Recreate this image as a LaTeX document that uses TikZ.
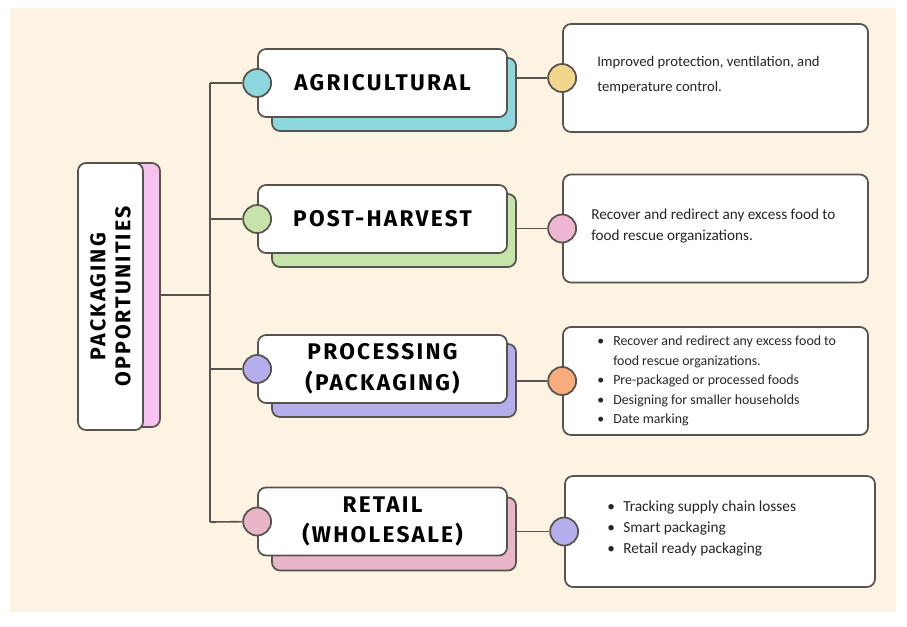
\documentclass[tikz,border=0pt]{standalone}
\usepackage{fontspec}
\setmainfont{Carlito}
\newfontfamily\headfont[LetterSpace=10]{Fira Sans}
\usetikzlibrary{positioning}

\definecolor{cream}{HTML}{FCF3E3}
\definecolor{edge}{HTML}{57534E}
\definecolor{agrcyan}{HTML}{8DD8DE}
\definecolor{harvgreen}{HTML}{C6E3A9}
\definecolor{proclilac}{HTML}{B4AEEC}
\definecolor{retpink}{HTML}{E9B5C9}
\definecolor{mainpink}{HTML}{F7C2F0}
\definecolor{dotyellow}{HTML}{F2D68C}
\definecolor{dotpink}{HTML}{EDB6D2}
\definecolor{dotorange}{HTML}{F6AC7C}

\newcommand{\bul}{\makebox[12pt][l]{\textbullet}}

\tikzset{
	card/.style={draw=edge,line width=1.3pt,rounded corners=6pt,fill=white,minimum width=186.75pt,minimum height=51pt,inner sep=0pt},
	cardback/.style={card,minimum width=183pt,minimum height=54.75pt},
	dot/.style={draw=edge,line width=1.3pt,circle,minimum size=21pt,inner sep=0pt},
	infobox/.style={card,minimum width=228.75pt,minimum height=81pt},
	infotext/.style={anchor=west,align=left,inner sep=0pt,text=black!85},
	headtext/.style={font=\headfont\bfseries\fontsize{17}{23}\selectfont,align=center},
	maintext/.style={font=\headfont\bfseries\fontsize{16}{18.75}\selectfont,align=center,rotate=90},
	wire/.style={draw=edge,line width=1.2pt},
}

\begin{document}
\begin{tikzpicture}[x=0.75pt,y=-0.75pt]
	\fill[white] (0,0) rectangle (907,626);
	\fill[cream] (10,8) rectangle (896,612);
	\useasboundingbox (0,0) rectangle (907,626);
	% main box
	\node[card,fill=mainpink,minimum width=48.75pt,minimum height=198pt] (main-back) at (127.5,295) {};
	\node[card,minimum width=48.75pt,minimum height=200.25pt] (main) at (110.5,296.5) {};
	\node[maintext] (main-label) at (main) {PACKAGING\\OPPORTUNITIES};
	% trunk
	\coordinate (trunk-top) at (210,83);
	\coordinate (trunk-bot) at (210,522);
	\draw[wire] (trunk-top) -- (trunk-bot);
	\draw[wire] (main-back.east) -- (main-back.east -| trunk-top);
	% agricultural
	\node[cardback,fill=agrcyan] (agri-back) at (394,94.5) {};
	\node[card,headtext] (agri) at (382.5,83) {AGRICULTURAL};
	\node[dot,fill=agrcyan] (agri-in) at (agri.west) {};
	\node[infobox] (agri-info) at (715.5,78) {};
	\node[dot,fill=dotyellow] (agri-out) at (agri-info.west) {};
	\node[infotext,font=\fontsize{11}{18.75}\selectfont] (agri-note) at (597,75.5) {Improved protection, ventilation, and\\temperature control.};
	\draw[wire] (trunk-top) -- (agri-in);
	\draw[wire] (agri-out) -- (agri-out -| agri-back.east);
	% post-harvest
	\node[cardback,fill=harvgreen] (harv-back) at (394,230.5) {};
	\node[card,headtext] (harv) at (382.5,219) {POST-HARVEST};
	\node[dot,fill=harvgreen] (harv-in) at (harv.west) {};
	\node[infobox] (harv-info) at (715.5,228.5) {};
	\node[dot,fill=dotpink] (harv-out) at (harv-info.west) {};
	\node[infotext,font=\fontsize{11.4}{15.75}\selectfont] (harv-note) at (591,226.5) {Recover and redirect any excess food to\\food rescue organizations.};
	\draw[wire] (harv-in) -- (harv-in -| trunk-top);
	\draw[wire] (harv-out) -- (harv-out -| harv-back.east);
	% processing
	\node[cardback,fill=proclilac] (proc-back) at (394,380.5) {};
	\node[card,headtext] (proc) at (382.5,369) {PROCESSING\\(PACKAGING)};
	\node[dot,fill=proclilac] (proc-in) at (proc.west) {};
	\node[infobox] (proc-info) at (715.5,381) {};
	\node[dot,fill=dotorange] (proc-out) at (proc-info.west) {};
	\node[infotext,font=\fontsize{10.4}{14.6}\selectfont] (proc-note) at (597,381) {\bul Recover and redirect any excess food to\\\phantom{\bul}food rescue organizations.\\\bul Pre-packaged or processed foods\\\bul Designing for smaller households\\\bul Date marking};
	\draw[wire] (proc-in) -- (proc-in -| trunk-top);
	\draw[wire] (proc-out) -- (proc-out -| proc-back.east);
	% retail
	\node[cardback,fill=retpink] (ret-back) at (394,534) {};
	\node[card,headtext] (ret) at (382.5,521.5) {RETAIL\\(WHOLESALE)};
	\node[dot,fill=retpink] (ret-in) at (ret.west) {};
	\node[infobox,minimum width=232.5pt,minimum height=83.25pt] (ret-info) at (720,531.5) {};
	\node[dot,fill=proclilac] (ret-out) at (ret-info.west) {};
	\node[infotext,font=\fontsize{11.5}{16}\selectfont] (ret-note) at (607,528.5) {\bul Tracking supply chain losses\\\bul Smart packaging\\\bul Retail ready packaging};
	\draw[wire] (trunk-bot) -- (ret-in);
	\draw[wire] (ret-out) -- (ret-out -| ret-back.east);
\end{tikzpicture}
\end{document}
